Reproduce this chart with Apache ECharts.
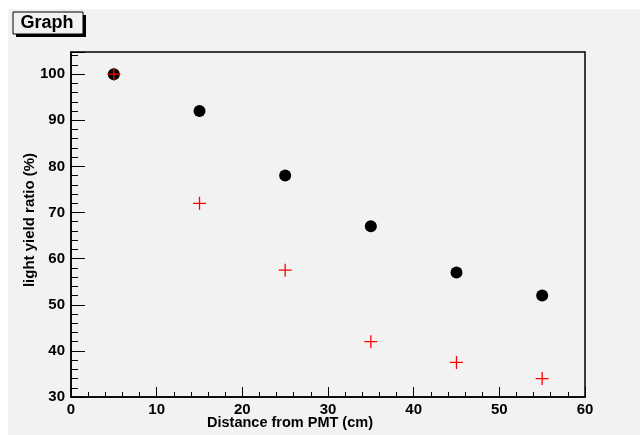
<!DOCTYPE html>
<html>
<head>
<meta charset="utf-8">
<script src="https://cdn.jsdelivr.net/npm/echarts@6/dist/echarts.min.js"></script>
<style>
  html, body { margin: 0; padding: 0; background: #f2f2f2; }
  #chart { width: 640px; height: 435px; }
</style>
</head>
<body>
<div id="chart"></div>
<script>
// distance from PMT (cm)
const distances = [5, 15, 25, 35, 45, 55];
// light yield ratio (%), two measurements
const yieldDots = [100, 92, 78, 67, 57, 52];
const yieldCross = [100, 72, 57.5, 42, 37.5, 34];

const FONT = "'Liberation Sans', Arial, Helvetica, sans-serif";
const PLUS = "path://M0,5.4H12V6.6H0Z M5.4,0H6.6V12H5.4Z";

const chart = echarts.init(document.getElementById("chart"));

chart.setOption({
  backgroundColor: "#f2f2f2",
  animation: false,
  grid: {
    left: 71, right: 55, top: 52, bottom: 38,
    show: true, borderColor: "#000", borderWidth: 1.5, backgroundColor: "transparent",
  },
  xAxis: {
    type: "value",
    min: 0, max: 60, interval: 10,
    axisLine: { show: true, onZero: false, lineStyle: { color: "#000", width: 1.5 } },
    axisTick: { inside: true, length: 10, lineStyle: { color: "#000" } },
    minorTick: { show: true, splitNumber: 5, length: 5, lineStyle: { color: "#000" } },
    splitLine: { show: false },
    axisLabel: { color: "#000", fontFamily: FONT, fontWeight: "bold", fontSize: 15, margin: 5 },
  },
  yAxis: {
    type: "value",
    min: 30, max: 104.8, interval: 10,
    axisLine: { show: true, lineStyle: { color: "#000", width: 1.5 } },
    axisTick: { inside: true, length: 14, lineStyle: { color: "#000" } },
    minorTick: { show: true, splitNumber: 5, length: 7, lineStyle: { color: "#000" } },
    splitLine: { show: false },
    axisLabel: {
      color: "#000", fontFamily: FONT, fontWeight: "bold", fontSize: 15, margin: 6,
      showMaxLabel: false,
      formatter: v => (v % 10 === 0 ? String(v) : ""),
    },
  },
  series: [
    {
      type: "scatter",
      data: distances.map((d, i) => [d, yieldDots[i]]),
      symbol: "circle",
      symbolSize: 12,
      itemStyle: { color: "#000", opacity: 1 },
    },
    {
      type: "scatter",
      data: distances.map((d, i) => [d, yieldCross[i]]),
      symbol: PLUS,
      symbolSize: 13,
      itemStyle: { color: "#ff0000", opacity: 1 },
    },
  ],
  graphic: [
    { type: "rect", left: 0, top: 0, shape: { width: 640, height: 9 }, style: { fill: "#fff" }, silent: true },
    { type: "rect", left: 0, top: 0, shape: { width: 8, height: 435 }, style: { fill: "#fff" }, silent: true },
    // title box with shadow
    { type: "rect", shape: { x: 16, y: 15, width: 70, height: 22 }, style: { fill: "#000" } },
    { type: "rect", shape: { x: 13, y: 12, width: 70, height: 22 }, style: { fill: "#f2f2f2", stroke: "#000", lineWidth: 1 } },
    {
      type: "text", x: 47, y: 23,
      style: { text: "Graph", fill: "#000", font: "bold 18px " + FONT, align: "center", verticalAlign: "middle" },
    },
    {
      type: "text", x: 290, y: 423,
      style: { text: "Distance from PMT (cm)", fill: "#000", font: "bold 14.5px " + FONT, align: "center", verticalAlign: "middle" },
    },
    {
      type: "text", x: 30, y: 220, rotation: Math.PI / 2,
      style: { text: "light yield ratio (%)", fill: "#000", font: "bold 15px " + FONT, align: "center", verticalAlign: "middle" },
    },
  ],
});
</script>
</body>
</html>
